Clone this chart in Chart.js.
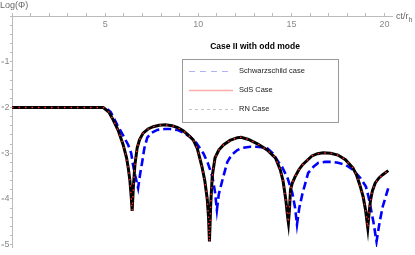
<!DOCTYPE html>
<html><head><meta charset="utf-8">
<script src="https://cdn.jsdelivr.net/npm/chart.js@4/dist/chart.umd.min.js"></script>
<style>html,body{margin:0;padding:0;background:#fff}#c{display:block}</style>
</head><body>
<canvas id="c" width="415" height="255"></canvas>
<script>
// Data
const blackX = [0,4.9,5.2,5.43,5.7,5.97,6.15,6.24,6.33,6.4,6.45,6.52,6.6,6.72,6.85,7.04,7.3,7.58,7.9,8.23,8.6,8.9,9.19,9.45,9.73,9.95,10.2,10.35,10.48,10.55,10.6,10.67,10.75,10.9,11.1,11.35,11.7,12.1,12.3,12.7,13.2,13.7,14.14,14.4,14.55,14.7,14.8,14.84,14.9,14.95,15.05,15.2,15.4,15.6,16.1,16.4,16.7,17.1,17.5,17.9,18.3,18.5,18.7,18.85,18.98,19.1,19.17,19.25,19.35,19.5,19.7,19.9,20.2];
const blackY = [-2,-2,-2.1,-2.27,-2.5,-2.82,-3.1,-3.32,-3.6,-3.95,-4.26,-3.7,-3.25,-2.88,-2.7,-2.56,-2.47,-2.42,-2.39,-2.38,-2.4,-2.44,-2.51,-2.6,-2.71,-2.9,-3.3,-3.6,-4.0,-4.4,-4.93,-4.1,-3.5,-3.1,-2.93,-2.82,-2.72,-2.66,-2.65,-2.7,-2.8,-2.93,-3.1,-3.36,-3.6,-4.02,-4.4,-4.52,-4.2,-3.8,-3.65,-3.51,-3.36,-3.25,-3.06,-3.01,-2.99,-3.0,-3.04,-3.14,-3.32,-3.48,-3.73,-3.95,-4.24,-4.63,-4.3,-4.02,-3.82,-3.65,-3.54,-3.47,-3.38];
const redX = blackX.slice();
const redY = blackY.slice();
const blueX = [0,5.0,5.3,5.65,5.95,6.24,6.4,6.5,6.62,6.77,6.88,6.99,7.1,7.26,7.5,7.8,8.2,8.5,8.87,9.2,9.57,9.9,10.27,10.5,10.75,10.9,11.0,11.1,11.3,11.56,11.8,12.1,12.4,12.8,13.1,13.4,13.7,14.0,14.3,14.5,14.8,15.05,15.2,15.3,15.42,15.6,15.9,16.2,16.45,16.8,17.2,17.5,17.9,18.3,18.7,19.0,19.14,19.4,19.57,19.73,19.9,20.2];
const blueY = [-2,-2,-2.1,-2.38,-2.6,-2.82,-3.0,-3.26,-3.5,-3.76,-3.45,-3.19,-2.9,-2.66,-2.55,-2.49,-2.47,-2.47,-2.49,-2.55,-2.64,-2.78,-3.0,-3.2,-3.5,-3.85,-4.24,-3.9,-3.58,-3.19,-3.03,-2.93,-2.88,-2.86,-2.86,-2.87,-2.89,-3.0,-3.19,-3.3,-3.55,-3.87,-4.2,-4.56,-4.2,-3.87,-3.43,-3.29,-3.21,-3.19,-3.19,-3.21,-3.25,-3.36,-3.54,-3.73,-3.95,-4.5,-4.93,-4.52,-4.17,-3.76];
const legendLabels = ["Schwarzschild case", "SdS Case", "RN Case"];
const chartTitle = "Case II with odd mode";
const xTickLabels = [5, 10, 15, 20];
const yTickLabels = [-1, -2, -3, -4, -5];

const pts = (xs, ys) => xs.map((x, i) => ({x: x, y: ys[i]}));
const FONT = '"Liberation Sans", Arial, sans-serif';

const overlay = {
  id: 'overlay',
  afterDraw(chart) {
    const ctx = chart.ctx;
    const sx = chart.scales.x, sy = chart.scales.y;
    ctx.save();
    // tick labels
    ctx.fillStyle = '#888';
    ctx.font = '9px ' + FONT;
    ctx.textBaseline = 'middle';
    ctx.textAlign = 'center';
    xTickLabels.forEach(v => ctx.fillText(String(v), sx.getPixelForValue(v), 24.5));
    yTickLabels.forEach(v => {
      const py = sy.getPixelForValue(v);
      ctx.textAlign = 'right';
      ctx.fillText(String(-v), 9.5, py);
      ctx.fillRect(1.5, Math.round(py) - 0.5, 2.5, 1);
    });
    // axis titles
    ctx.fillStyle = '#666';
    ctx.font = '9px ' + FONT;
    ctx.textAlign = 'left';
    ctx.fillText('Log(Φ)', 0, 6);
    ctx.fillText('ct/r', 396, 17);
    const w = ctx.measureText('ct/r').width;
    ctx.font = '7px ' + FONT;
    ctx.fillText('h', 396 + w, 20);
    // legend title
    ctx.fillStyle = '#000';
    ctx.font = 'bold 8.5px ' + FONT;
    ctx.textAlign = 'center';
    ctx.fillText(chartTitle, 255, 47);
    // legend box
    ctx.fillStyle = '#fff';
    ctx.fillRect(182, 59, 156, 63);
    ctx.strokeStyle = '#999';
    ctx.lineWidth = 1;
    ctx.strokeRect(182.5, 59.5, 156, 63);
    const styles = [
      {c: 'rgba(120,130,240,0.6)', d: [6, 5], w: 1},
      {c: 'rgba(255,150,150,0.8)', d: [], w: 1.5},
      {c: 'rgba(180,180,180,0.8)', d: [3, 3], w: 1}
    ];
    const ys = [71, 90, 109];
    ctx.font = '7.5px ' + FONT;
    ctx.textAlign = 'left';
    legendLabels.forEach((lab, i) => {
      const s = styles[i];
      ctx.beginPath();
      ctx.setLineDash(s.d);
      ctx.strokeStyle = s.c;
      ctx.lineWidth = s.w;
      ctx.moveTo(189, ys[i] + 0.5);
      ctx.lineTo(233, ys[i] + 0.5);
      ctx.stroke();
      ctx.setLineDash([]);
      ctx.fillStyle = '#222';
      ctx.fillText(lab, 239, ys[i]);
    });
    ctx.restore();
  }
};

new Chart(document.getElementById('c'), {
  type: 'line',
  data: {
    datasets: [
      {label: 'RN', data: pts(redX, redY), borderColor: '#ff2a2a', borderWidth: 1.4, borderDash: [1.5, 5], pointRadius: 0, tension: 0, order: 0},
      {label: 'SdS', data: pts(blackX, blackY), borderColor: '#000', borderWidth: 3, pointRadius: 0, tension: 0, order: 1},
      {label: 'Schwarzschild', data: pts(blueX, blueY), borderColor: '#0000ff', borderWidth: 2.6, borderDash: [8, 4], pointRadius: 0, tension: 0, order: 2}
    ]
  },
  options: {
    responsive: false,
    animation: false,
    layout: {padding: {top: 16, left: 0, right: 23, bottom: 8}},
    plugins: {legend: {display: false}, tooltip: {enabled: false}},
    scales: {
      x: {
        type: 'linear', position: 'top', min: 0, max: 20.4,
        afterFit: s => { s.height = 0; },
        grid: {drawOnChartArea: false, tickLength: 3, tickColor: '#bbb'},
        border: {color: '#bbb'},
        ticks: {stepSize: 1, autoSkip: false, includeBounds: false, maxRotation: 0, display: false}
      },
      y: {
        type: 'linear', position: 'left', min: -5.05, max: 0,
        afterFit: s => { s.width = 12; },
        grid: {drawOnChartArea: false, tickLength: 2, tickColor: '#bbb'},
        border: {color: '#bbb'},
        ticks: {stepSize: 0.2, autoSkip: false, includeBounds: false, display: false}
      }
    }
  },
  plugins: [overlay]
});
</script>
</body></html>
